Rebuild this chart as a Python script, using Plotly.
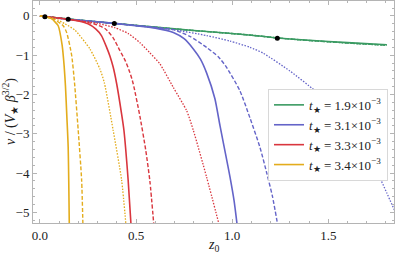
import plotly.graph_objects as go

# ---- data ----
legend_labels = ["<i>t</i><sub>★</sub> = 1.9×10<sup>−3</sup>",
                 "<i>t</i><sub>★</sub> = 3.1×10<sup>−3</sup>",
                 "<i>t</i><sub>★</sub> = 3.3×10<sup>−3</sup>",
                 "<i>t</i><sub>★</sub> = 3.4×10<sup>−3</sup>"]

# green (t* = 1.9e-3)
g_solid_x = [0, 0.15, 0.387, 0.52, 0.7, 0.9, 1.1, 1.235, 1.4, 1.6, 1.805]
g_solid_y = [0, -0.08, -0.19, -0.25, -0.33, -0.41, -0.49, -0.56, -0.62, -0.68, -0.735]
g_dash_x = [0, 0.15, 0.387, 0.52, 0.7, 0.9, 1.1, 1.235, 1.4, 1.6, 1.805]
g_dash_y = [0, -0.08, -0.19, -0.25, -0.33, -0.41, -0.49, -0.56, -0.625, -0.688, -0.745]
g_dot_x = [0, 0.15, 0.387, 0.52, 0.7, 0.9, 1.1, 1.235, 1.4, 1.6, 1.805]
g_dot_y = [0, -0.08, -0.19, -0.25, -0.33, -0.41, -0.49, -0.56, -0.627, -0.692, -0.75]

# blue (t* = 3.1e-3)
b_solid_x = [0, 0.147, 0.387, 0.52, 0.6, 0.694, 0.75, 0.798, 0.835, 0.867, 0.91, 0.937, 0.965, 0.989, 1.01, 1.028]
b_solid_y = [0, -0.084, -0.19, -0.26, -0.31, -0.42, -0.58, -0.84, -1.1, -1.45, -2.1, -2.8, -3.5, -4.1, -4.7, -5.4]
b_dash_x = [0, 0.147, 0.387, 0.52, 0.6, 0.694, 0.78, 0.867, 0.93, 0.971, 1.04, 1.093, 1.145, 1.18, 1.21, 1.24]
b_dash_y = [0, -0.084, -0.19, -0.255, -0.29, -0.35, -0.52, -0.8, -1.05, -1.31, -1.9, -2.6, -3.35, -4.0, -4.6, -5.4]
b_dot_x = [0, 0.147, 0.387, 0.52, 0.694, 0.867, 0.989, 1.093, 1.162, 1.3, 1.43, 1.55, 1.65, 1.743, 1.804, 1.845]
b_dot_y = [0, -0.084, -0.19, -0.255, -0.35, -0.5, -0.64, -0.8, -0.95, -1.4, -1.9, -2.45, -3.05, -3.85, -4.5, -4.95]

# red (t* = 3.3e-3)
r_solid_x = [0, 0.147, 0.2, 0.25, 0.29, 0.32, 0.347, 0.364, 0.381, 0.399, 0.425, 0.437, 0.459, 0.475]
r_solid_y = [0, -0.084, -0.13, -0.2, -0.33, -0.5, -0.8, -1.02, -1.3, -1.72, -2.5, -2.91, -4.18, -5.4]
r_dash_x = [0, 0.147, 0.22, 0.28, 0.338, 0.38, 0.416, 0.445, 0.468, 0.485, 0.52, 0.55, 0.572, 0.594]
r_dash_y = [0, -0.084, -0.14, -0.2, -0.32, -0.55, -0.88, -1.15, -1.44, -1.72, -2.55, -3.4, -4.2, -5.4]
r_dot_x = [0, 0.147, 0.22, 0.3, 0.39, 0.46, 0.52, 0.57, 0.624, 0.694, 0.763, 0.798, 0.867, 0.937]
r_dot_y = [0, -0.084, -0.13, -0.19, -0.3, -0.45, -0.68, -0.93, -1.22, -1.82, -2.41, -2.91, -4.1, -5.4]

# yellow (t* = 3.4e-3)
y_solid_x = [0, 0.026, 0.06, 0.095, 0.116, 0.126, 0.133, 0.14, 0.147, 0.153]
y_solid_y = [0, -0.018, -0.07, -0.25, -0.76, -1.27, -1.8, -2.55, -3.34, -5.4]
y_dash_x = [0, 0.026, 0.078, 0.121, 0.139, 0.165, 0.18, 0.199, 0.217, 0.224]
y_dash_y = [0, -0.018, -0.1, -0.25, -0.42, -1.0, -1.7, -2.9, -4.18, -5.4]
y_dot_x = [0, 0.026, 0.078, 0.13, 0.182, 0.26, 0.312, 0.335, 0.381, 0.425, 0.449]
y_dot_y = [0, -0.018, -0.07, -0.2, -0.36, -0.84, -1.35, -1.7, -2.91, -4.18, -5.4]

# black branching points
pts_x = [0.026, 0.147, 0.387, 1.235]
pts_y = [-0.018, -0.084, -0.19, -0.565]

colors = ["#3a9a62", "#6464c8", "#d9363e", "#e3ac1c"]
families = [
    (g_solid_x, g_solid_y, g_dash_x, g_dash_y, g_dot_x, g_dot_y),
    (b_solid_x, b_solid_y, b_dash_x, b_dash_y, b_dot_x, b_dot_y),
    (r_solid_x, r_solid_y, r_dash_x, r_dash_y, r_dot_x, r_dot_y),
    (y_solid_x, y_solid_y, y_dash_x, y_dash_y, y_dot_x, y_dot_y),
]

fig = go.Figure()
for i, (sx, sy, dx, dy, ox, oy) in enumerate(families):
    c = colors[i]
    fig.add_trace(go.Scatter(x=ox, y=oy, mode="lines", showlegend=False,
                             line=dict(color=c, width=1.3, dash="1.5px,1.5px", shape="spline", smoothing=0.6)))
    fig.add_trace(go.Scatter(x=dx, y=dy, mode="lines", showlegend=False,
                             line=dict(color=c, width=1.4, dash="4px,2px", shape="spline", smoothing=0.6)))
    fig.add_trace(go.Scatter(x=sx, y=sy, mode="lines", name=legend_labels[i], legendrank=i + 1,
                             line=dict(color=c, width=1.6, shape="spline", smoothing=0.6)))

fig.add_trace(go.Scatter(x=pts_x, y=pts_y, mode="markers", showlegend=False,
                         marker=dict(color="black", size=5)))

axis_common = dict(showline=True, linecolor="#b4b4b4", linewidth=1, mirror="allticks",
                   ticks="inside", ticklen=4, tickcolor="#b4b4b4", showgrid=False, zeroline=False,
                   tickfont=dict(family="Liberation Serif", size=13, color="#222"))

fig.update_layout(
    width=395, height=255,
    margin=dict(l=33, r=1, t=1, b=32),
    paper_bgcolor="white", plot_bgcolor="white",
    font=dict(family="Liberation Serif", size=13, color="#222"),
    xaxis=dict(range=[-0.036, 1.842], tickvals=[0, 0.5, 1.0, 1.5], tickformat=".1f",
               minor=dict(dtick=0.1, tick0=0, ticklen=2, ticks="inside", tickcolor="#b4b4b4"),
               **axis_common),
    yaxis=dict(range=[-5.27, 0.38], tickvals=[-5, -4, -3, -2, -1, 0],
               minor=dict(dtick=0.2, tick0=0, ticklen=2, ticks="inside", tickcolor="#b4b4b4"),
               **axis_common),
    legend=dict(x=0.651, y=0.604, xanchor="left", yanchor="top",
                bgcolor="white", bordercolor="#d8d8d8", borderwidth=1,
                font=dict(family="Liberation Serif", size=13, color="#222"),
                traceorder="normal", itemwidth=30, tracegroupgap=0),
    annotations=[
        dict(text="<i>v</i> / (<i>V</i><sub>★</sub> <i>β</i><sup>3/2</sup>)",
             xref="paper", yref="paper", x=(10 - 33) / 361, y=0.5, textangle=-90,
             showarrow=False, xanchor="center", yanchor="middle",
             font=dict(family="Liberation Serif", size=14, color="#222")),
        dict(text="<i>z</i><sub>0</sub>", xref="paper", yref="paper",
             x=0.5, y=(223 - 245) / 222, showarrow=False, xanchor="center", yanchor="middle",
             font=dict(family="Liberation Serif", size=14, color="#222")),
    ],
)

fig.write_html("out.html", config={"displayModeBar": False},
               post_script="document.body.style.margin='0';")
